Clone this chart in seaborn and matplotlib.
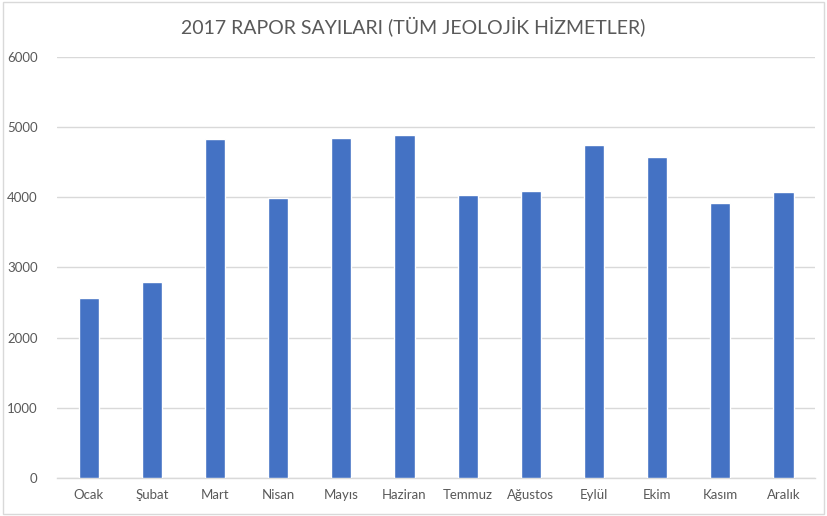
import matplotlib
matplotlib.use("Agg")
import matplotlib.pyplot as plt
import seaborn as sns
import pandas as pd
from matplotlib.patches import Rectangle

# Data
months = ["Ocak", "Şubat", "Mart", "Nisan", "Mayıs", "Haziran",
          "Temmuz", "Ağustos", "Eylül", "Ekim", "Kasım", "Aralık"]
reports = [2563, 2800, 4830, 3990, 4848, 4881,
           4038, 4092, 4739, 4570, 3926, 4074]
y_ticks = [0, 1000, 2000, 3000, 4000, 5000, 6000]

df = pd.DataFrame({"Ay": months, "Rapor": reports})

sns.set_style("white")
plt.rcParams['font.family'] = ['Lato', 'DejaVu Sans']

fig = plt.figure(figsize=(8.27, 5.16), dpi=100)
ax = fig.add_axes([0.069, 0.0736, 0.9165, 0.816])

sns.barplot(data=df, x="Ay", y="Rapor", color="#4472C4", width=0.32,
            saturation=1, ax=ax, zorder=3)

ax.set_ylim(0, 6000)
ax.set_xlim(-0.5, len(months) - 0.5)
ax.set_yticks(y_ticks)
ax.set_yticklabels([str(t) for t in y_ticks])
ax.grid(axis="y", color="#d9d9d9", linewidth=1, zorder=0)
ax.set_axisbelow(True)
for s in ["top", "right", "left"]:
    ax.spines[s].set_visible(False)
ax.spines["bottom"].set_color("#d9d9d9")
ax.spines["bottom"].set_linewidth(1)
ax.tick_params(axis="both", length=0, labelsize=9.5, colors="#595959")
ax.tick_params(axis="y", pad=14)
ax.tick_params(axis="x", pad=8)
ax.set_xlabel("")
ax.set_ylabel("")

fig.text(0.5, 0.947, "2017 RAPOR SAYILARI (TÜM JEOLOJİK HİZMETLER)",
         ha="center", va="center", fontsize=14, color="#595959")

# chart border
fig.patches.append(Rectangle((0.004, 0.004), 0.992, 0.992, transform=fig.transFigure,
                             fill=False, edgecolor="#d9d9d9", linewidth=1))

fig.savefig("out.png", dpi=100)
